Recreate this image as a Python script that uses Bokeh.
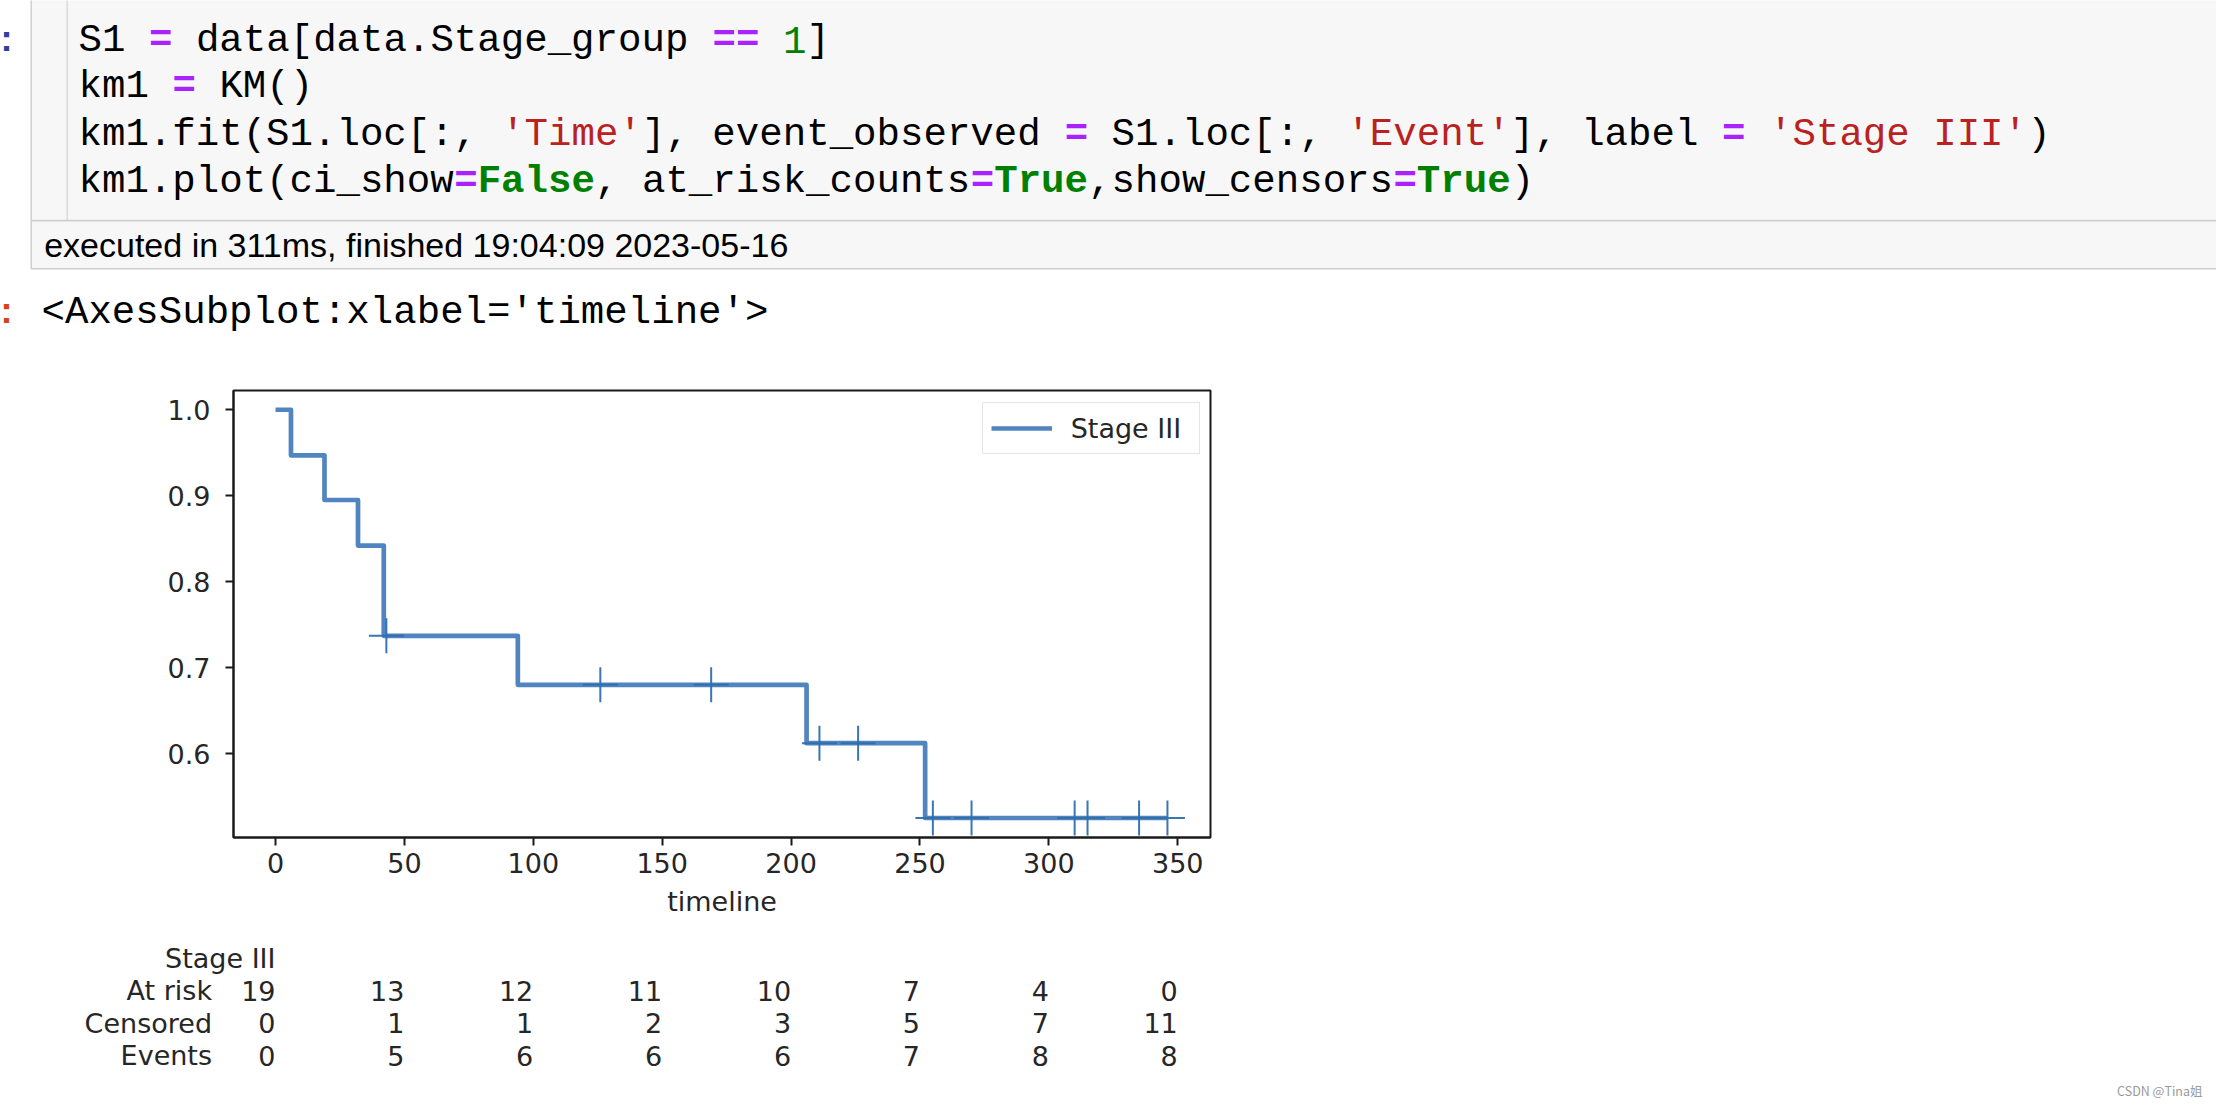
from bokeh.plotting import figure
from bokeh.layouts import column
from bokeh.models import Range1d, FixedTicker, ColumnDataSource, PrintfTickFormatter
from bokeh.embed import file_html
from bokeh.resources import INLINE
from bokeh.core.properties import value

# ---------------- data ----------------
timeline = [0, 6, 19, 32, 42, 94, 206, 252, 346]
survival = [1.0, 0.947, 0.895, 0.842, 0.737, 0.680, 0.612, 0.525, 0.525]
censor_times = [43, 126, 169, 211, 226, 255, 270, 310, 315, 335, 346]
censor_surv = [0.737, 0.680, 0.680, 0.612, 0.612, 0.525, 0.525, 0.525, 0.525, 0.525, 0.525]
risk_times = [0, 50, 100, 150, 200, 250, 300, 350]
at_risk = [19, 13, 12, 11, 10, 7, 4, 0]
censored = [0, 1, 1, 2, 3, 5, 7, 11]
events = [0, 5, 6, 6, 6, 7, 8, 8]
x_ticks = [0, 50, 100, 150, 200, 250, 300, 350]
y_ticks = [0.6, 0.7, 0.8, 0.9, 1.0]
series_label = "Stage III"
row_labels = ["At risk", "Censored", "Events"]
x_label = "timeline"

# ---------------- page geometry (pixels) ----------------
W = 2216
H_TOP, H_KM, H_TAB = 370, 565, 169
FL, FR = 233, 1210                  # KM frame left/right on the page
KM_TOP, KM_BOTTOM = 20, 98          # KM frame borders inside its figure
X0, X1 = -16.3, 362.7               # KM x range
Y0, Y1 = 0.5023, 1.0224             # KM y range

TXT = "#262626"
FONT = "DejaVu Sans"
FS = "27px"
LINE_C = "#5185c0"
MARK_C = "#2f6fae"


def no_align(fig):
    if "frame_align" in fig.properties():
        fig.frame_align = False
    return fig


def bare(fig):
    fig.xaxis.visible = False
    fig.yaxis.visible = False
    fig.grid.visible = False
    fig.outline_line_color = None
    return no_align(fig)


# ================= notebook cell (top) =================
top = bare(figure(width=W, height=H_TOP, output_backend="svg", toolbar_location=None,
                  title=None, x_range=Range1d(0, W), y_range=Range1d(H_TOP, 0),
                  min_border=0, background_fill_color="white", border_fill_color="white",
                  x_axis_location=None, y_axis_location=None))

top.quad(left=[30.7], right=[2260], top=[-20], bottom=[268.3], fill_color="#f7f7f7",
         line_color="#cfcfcf", line_width=1.5)
top.quad(left=[65.8], right=[67.6], top=[-20], bottom=[219.5], fill_color="#dedede",
         line_color=None)
top.quad(left=[31.5], right=[2260], top=[219.2], bottom=[220.9], fill_color="#cfcfcf",
         line_color=None)

CODE_FONT = "Liberation Mono"
CODE_FS = "39.1px"
CW = 23.48
MID = 10.4                      # baseline -> text middle for the code font
code_x0 = 78.0
code_baselines = [50.0, 96.7, 144.6, 191.6]
styles = {
    "n": ("#000000", "normal"),
    "op": ("#AA22FF", "bold"),
    "num": ("#008000", "normal"),
    "str": ("#BA2121", "normal"),
    "kw": ("#008000", "bold"),
}
code_lines = [
    [("S1 ", "n"), ("=", "op"), (" data[data.Stage_group ", "n"), ("==", "op"),
     (" ", "n"), ("1", "num"), ("]", "n")],
    [("km1 ", "n"), ("=", "op"), (" KM()", "n")],
    [("km1.fit(S1.loc[:, ", "n"), ("'Time'", "str"), ("], event_observed ", "n"),
     ("=", "op"), (" S1.loc[:, ", "n"), ("'Event'", "str"), ("], label ", "n"),
     ("=", "op"), (" ", "n"), ("'Stage III'", "str"), (")", "n")],
    [("km1.plot(ci_show", "n"), ("=", "op"), ("False", "kw"), (", at_risk_counts", "n"),
     ("=", "op"), ("True", "kw"), (",show_censors", "n"), ("=", "op"), ("True", "kw"),
     (")", "n")],
]


def mono_line(tokens, x0, yb):
    col = 0
    for txt, kind in tokens:
        lead = len(txt) - len(txt.lstrip(" "))
        body = txt.strip(" ")
        if body:
            color, style = styles[kind]
            top.text(x=[x0 + (col + lead) * CW], y=[yb - MID], text=[body],
                     text_align="left", text_baseline="middle",
                     text_font=value(CODE_FONT), text_font_size=value(CODE_FS),
                     text_color=color, text_font_style=style)
        col += len(txt)


for toks, yb in zip(code_lines, code_baselines):
    mono_line(toks, code_x0, yb)

# prompt remnants ("In [ ]:" / "Out[ ]:") at the screenshot's left edge
for yb, col in [(50.0, "#303F9F"), (322.0, "#D84315")]:
    top.text(x=[0], y=[yb - 11.8], text=[":"], text_align="left", text_baseline="middle",
             text_font=value("Liberation Sans"), text_font_size=value("36px"),
             text_font_style="bold", text_color=col)

top.text(x=[43.7], y=[256.0 - 11.8], text=["executed in 311ms, finished 19:04:09 2023-05-16"],
         text_align="left", text_baseline="middle",
         text_font=value("Liberation Sans"), text_font_size=value("34px"),
         text_color="#000000")

mono_line([("<AxesSubplot:xlabel='timeline'>", "n")], 41.0, 322.5)

# ================= KM plot =================
p = no_align(figure(width=W, height=H_KM, output_backend="svg", toolbar_location=None,
                    title=None, x_range=Range1d(X0, X1), y_range=Range1d(Y0, Y1),
                    min_border_left=FL, min_border_right=W - FR,
                    min_border_top=KM_TOP, min_border_bottom=KM_BOTTOM,
                    background_fill_color="white", border_fill_color="white"))
p.grid.visible = False
p.outline_line_color = "#1a1a1a"
p.outline_line_width = 2

p.xaxis.ticker = FixedTicker(ticks=x_ticks)
p.yaxis.ticker = FixedTicker(ticks=y_ticks)
p.yaxis.formatter = PrintfTickFormatter(format="%.1f")
for ax in (p.xaxis[0], p.yaxis[0]):
    ax.axis_line_color = "#1a1a1a"
    ax.axis_line_width = 2
    ax.major_tick_line_color = "#1a1a1a"
    ax.major_tick_line_width = 2
    ax.major_tick_out = 8
    ax.major_tick_in = 0
    ax.minor_tick_line_color = None
    ax.major_label_text_font = FONT
    ax.major_label_text_font_size = FS
    ax.major_label_text_color = TXT
p.xaxis.major_label_standoff = 7
p.yaxis.major_label_standoff = 15
p.xaxis.axis_label = x_label
p.xaxis.axis_label_text_font = FONT
p.xaxis.axis_label_text_font_size = FS
p.xaxis.axis_label_text_font_style = "normal"
p.xaxis.axis_label_text_color = TXT
p.xaxis.axis_label_standoff = 10

src = ColumnDataSource(dict(t=timeline, s=survival))
p.step("t", "s", source=src, mode="after", line_color=LINE_C, line_alpha=1.0,
       line_width=4.7, line_join="round", legend_label=series_label)
csrc = ColumnDataSource(dict(t=censor_times, s=censor_surv))
p.scatter("t", "s", source=csrc, marker="cross", size=35, line_color=MARK_C,
          line_alpha=0.95, line_width=2)

frame_h = H_KM - KM_TOP - KM_BOTTOM
lg = p.legend[0]
lg.location = (981.7 - FL, frame_h - (454.3 - (H_TOP + KM_TOP)))
lg.padding = 8
lg.spacing = 0
lg.margin = 0
lg.glyph_width = 61
lg.glyph_height = 34
lg.label_height = 34
lg.label_width = 120
lg.label_standoff = 19
lg.label_text_font = FONT
lg.label_text_font_size = FS
lg.label_text_color = TXT
lg.label_text_baseline = "middle"
lg.border_line_color = "#cccccc"
lg.border_line_width = 1.5
lg.background_fill_alpha = 0.8

# ================= at-risk table (same x scale as the KM plot) =================
px_per_unit = (FR - FL) / (X1 - X0)
tx0 = X0 - FL / px_per_unit
tx1 = tx0 + W / px_per_unit
tab = bare(figure(width=W, height=H_TAB, output_backend="svg", toolbar_location=None,
                  title=None, x_range=Range1d(tx0, tx1),
                  y_range=Range1d(H_TOP + H_KM + H_TAB, H_TOP + H_KM),
                  min_border=0, background_fill_color="white", border_fill_color="white",
                  x_axis_location=None, y_axis_location=None))

row_Y = [958.0, 990.4, 1022.8, 1055.2]
text_kw = dict(text_baseline="middle", text_font=value(FONT), text_font_size=value(FS),
               text_color=TXT)
tab.text(x=[risk_times[0]], y=[row_Y[0]], text=[series_label], text_align="right",
         **text_kw)
for vals, lbl, Y in zip([at_risk, censored, events], row_labels, row_Y[1:]):
    tsrc = ColumnDataSource(dict(t=risk_times, v=[str(v) for v in vals]))
    tab.text(x="t", y=Y, text="v", source=tsrc, text_align="right", **text_kw)
    tab.text(x=[risk_times[0]], y=[Y], text=[lbl], text_align="right", x_offset=-63.5,
             **text_kw)

tab.text(x=[tx1], y=[1090.0], text=["CSDN @Tina姐"], text_align="right",
         text_baseline="middle", x_offset=-14,
         text_font=value("Noto Sans CJK SC"), text_font_size=value("12.5px"),
         text_color="#9a9a9a")

layout = column(top, p, tab, spacing=0)
open("out.html", "w").write(file_html(layout, INLINE))
